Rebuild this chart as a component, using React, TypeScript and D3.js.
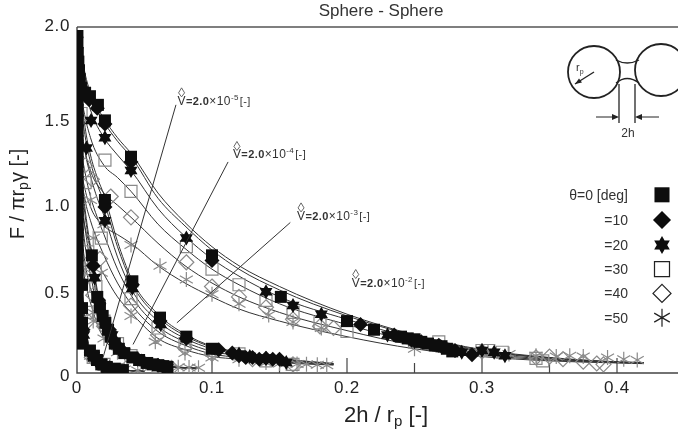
import React from "react";
import * as d3 from "d3";

const FONT = "'Liberation Sans', Arial, sans-serif";
type P = number[];

const xMajorTicks = [0.1, 0.2, 0.3, 0.4];
const xMidTicks = [0.25, 0.35];
const xMinorTicks = [0.15];
const yTickValues = [0, 0.5, 1, 1.5, 2];
const yTickText = ["0", "0.5", "1.0", "1.5", "2.0"];
const yTickCentres = [375, 292, 205, 120, 25];
const xTickValues = [0, 0.1, 0.2, 0.3, 0.4];
const xTickText = ["0", "0.1", "0.2", "0.3", "0.4"];

// ---- curves, one y list per contact angle, theta = 0,10,20,30,40,50
const curveXD = [0.001, 0.003, 0.006, 0.01, 0.02, 0.03, 0.04, 0.06, 0.08, 0.1, 0.12, 0.15, 0.2, 0.25, 0.3, 0.35, 0.4, 0.42];
const curveD = [
  [1.98, 1.86, 1.73, 1.62, 1.47, 1.36, 1.27, 1.04, 0.87, 0.73, 0.62, 0.5, 0.34, 0.22, 0.135, 0.09, 0.065, 0.06],
  [1.96, 1.84, 1.71, 1.6, 1.45, 1.34, 1.25, 1.01, 0.85, 0.71, 0.6, 0.48, 0.33, 0.215, 0.13, 0.088, 0.064, 0.059],
  [1.9, 1.76, 1.63, 1.52, 1.36, 1.26, 1.17, 0.95, 0.79, 0.66, 0.56, 0.44, 0.31, 0.2, 0.125, 0.085, 0.063, 0.058],
  [1.8, 1.62, 1.48, 1.36, 1.2, 1.13, 1.05, 0.86, 0.72, 0.6, 0.51, 0.4, 0.28, 0.18, 0.115, 0.08, 0.062, 0.057],
  [1.65, 1.42, 1.28, 1.17, 1.04, 0.97, 0.9, 0.75, 0.62, 0.52, 0.44, 0.35, 0.245, 0.16, 0.105, 0.075, 0.06, 0.055],
  [1.45, 1.2, 1.06, 0.96, 0.85, 0.8, 0.75, 0.62, 0.52, 0.44, 0.37, 0.3, 0.21, 0.14, 0.095, 0.07, 0.058, 0.054],
];
const curveXC = [0.001, 0.003, 0.006, 0.01, 0.015, 0.02, 0.03, 0.04, 0.06, 0.08, 0.1, 0.12, 0.15, 0.19];
const curveC = [
  [1.9, 1.62, 1.42, 1.26, 1.13, 1.03, 0.76, 0.55, 0.34, 0.225, 0.155, 0.12, 0.085, 0.055],
  [1.85, 1.56, 1.37, 1.22, 1.09, 0.99, 0.73, 0.53, 0.325, 0.215, 0.15, 0.115, 0.082, 0.054],
  [1.75, 1.46, 1.28, 1.14, 1.01, 0.91, 0.67, 0.49, 0.3, 0.2, 0.14, 0.11, 0.078, 0.052],
  [1.6, 1.32, 1.16, 1.02, 0.9, 0.8, 0.6, 0.45, 0.27, 0.18, 0.125, 0.1, 0.072, 0.05],
  [1.4, 1.16, 1.0, 0.88, 0.77, 0.68, 0.52, 0.4, 0.24, 0.16, 0.11, 0.09, 0.066, 0.048],
  [1.2, 0.98, 0.84, 0.73, 0.64, 0.57, 0.44, 0.35, 0.2, 0.135, 0.095, 0.08, 0.06, 0.046],
];
const curveXB = [0.001, 0.003, 0.005, 0.008, 0.011, 0.015, 0.02, 0.028, 0.04, 0.052, 0.067, 0.09];
const curveB = [
  [1.5, 1.22, 1.02, 0.83, 0.68, 0.48, 0.32, 0.19, 0.1, 0.068, 0.042, 0.028],
  [1.45, 1.17, 0.98, 0.8, 0.65, 0.46, 0.31, 0.18, 0.098, 0.066, 0.041, 0.028],
  [1.35, 1.08, 0.9, 0.73, 0.6, 0.42, 0.29, 0.17, 0.095, 0.064, 0.04, 0.027],
  [1.22, 0.96, 0.8, 0.64, 0.53, 0.38, 0.26, 0.16, 0.09, 0.06, 0.038, 0.027],
  [1.05, 0.84, 0.69, 0.55, 0.46, 0.33, 0.23, 0.145, 0.085, 0.057, 0.036, 0.026],
  [0.9, 0.71, 0.58, 0.46, 0.38, 0.28, 0.2, 0.13, 0.08, 0.054, 0.034, 0.026],
];
const curveXA = [0.0005, 0.001, 0.002, 0.003, 0.004, 0.006, 0.01, 0.015, 0.022, 0.034, 0.05];
const curveA = [
  [1.2, 1.0, 0.76, 0.6, 0.47, 0.3, 0.13, 0.075, 0.038, 0.018, 0.01],
  [1.15, 0.96, 0.72, 0.57, 0.45, 0.29, 0.125, 0.073, 0.037, 0.018, 0.01],
  [1.05, 0.88, 0.66, 0.52, 0.42, 0.27, 0.12, 0.07, 0.036, 0.017, 0.01],
  [0.95, 0.78, 0.58, 0.47, 0.38, 0.25, 0.11, 0.065, 0.034, 0.017, 0.01],
  [0.82, 0.66, 0.5, 0.4, 0.33, 0.22, 0.1, 0.06, 0.032, 0.016, 0.01],
  [0.68, 0.55, 0.42, 0.34, 0.28, 0.19, 0.09, 0.055, 0.03, 0.016, 0.01],
];
const curveFamilies: [number[], number[][]][] = [[curveXD, curveD], [curveXC, curveC], [curveXB, curveB], [curveXA, curveA]];

// ---- measured points, one list per contact angle, [x, y, x, y, ...]
const points0 = [
  0.0003, 1.97, 0.0003, 1.91, 0.0006, 1.85, 0.001, 1.8, 0.0015, 1.75, 0.002, 1.7, 0.003, 1.65, 0.004, 1.62, 0.006, 1.62, 0.0096, 1.6, 0.0155, 1.55, 0.0207, 1.46, 0.04, 1.25, 0.1, 0.68, 0.151, 0.44, 0.2, 0.3, 0.22, 0.25, 0.24, 0.21, 0.245, 0.2, 0.25, 0.195, 0.255, 0.18, 0.26, 0.17, 0.265, 0.16, 0.27, 0.155, 0.274, 0.14, 0.278, 0.125,
  0.0005, 1.58, 0.0005, 1.52, 0.0005, 1.46, 0.0005, 1.4, 0.0005, 1.34, 0.0005, 1.28, 0.0005, 1.22, 0.0005, 1.16, 0.0005, 1.1, 0.0005, 1.04, 0.0005, 0.98, 0.0005, 0.92, 0.0005, 0.86, 0.0005, 0.8, 0.0005, 0.74, 0.0005, 0.68, 0.0005, 0.62, 0.0005, 0.56, 0.0005, 0.5, 0.0005, 0.44, 0.0005, 0.38, 0.0005, 0.32, 0.0005, 0.26, 0.0005, 0.2,
  0.0207, 1.0, 0.041, 0.53, 0.0615, 0.32, 0.081, 0.21, 0.1, 0.14, 0.011, 0.68, 0.015, 0.44, 0.017, 0.38, 0.019, 0.33, 0.021, 0.29, 0.023, 0.25, 0.025, 0.21, 0.028, 0.17, 0.031, 0.14, 0.035, 0.115, 0.041, 0.09, 0.046, 0.075, 0.052, 0.058, 0.056, 0.05, 0.06, 0.045, 0.064, 0.04, 0.067, 0.035,
  0.002, 0.51, 0.0037, 0.51, 0.0037, 0.375, 0.0037, 0.29, 0.0037, 0.17, 0.0096, 0.13, 0.0125, 0.1, 0.0148, 0.075, 0.018, 0.05, 0.022, 0.035, 0.028, 0.025, 0.034, 0.017,
];
const points10 = [
  0.009, 1.58, 0.015, 1.53, 0.0207, 1.44, 0.04, 1.22, 0.1, 0.65, 0.21, 0.28, 0.235, 0.22, 0.248, 0.19, 0.255, 0.18, 0.268, 0.16, 0.28, 0.13, 0.2926, 0.105,
  0.0207, 0.96, 0.041, 0.51, 0.0615, 0.3, 0.081, 0.2, 0.105, 0.135, 0.115, 0.115, 0.12, 0.1, 0.125, 0.09, 0.13, 0.09, 0.135, 0.08, 0.14, 0.085, 0.145, 0.08, 0.15, 0.08, 0.012, 0.62, 0.016, 0.42, 0.024, 0.25, 0.032, 0.14, 0.045, 0.08, 0.06, 0.045,
  0.0045, 0.25, 0.011, 0.11, 0.016, 0.065, 0.024, 0.03,
];
const points20 = [
  0.0104, 1.46, 0.0207, 1.36, 0.04, 1.17, 0.081, 0.78, 0.14, 0.47, 0.16, 0.39, 0.181, 0.34, 0.23, 0.22, 0.25, 0.18, 0.27, 0.15, 0.285, 0.12, 0.3, 0.13, 0.309, 0.12, 0.317, 0.1,
  0.007, 1.3, 0.0207, 0.88, 0.041, 0.49, 0.062, 0.28, 0.12, 0.11, 0.128, 0.095, 0.14, 0.085, 0.155, 0.06, 0.013, 0.55, 0.017, 0.38, 0.026, 0.22, 0.035, 0.12, 0.048, 0.07, 0.065, 0.035,
  0.005, 0.22, 0.012, 0.1, 0.018, 0.055, 0.026, 0.025,
];
const points30 = [
  0.0207, 1.23, 0.04, 1.05, 0.081, 0.73, 0.1, 0.6, 0.12, 0.51, 0.14, 0.42, 0.16, 0.35, 0.18, 0.29, 0.2, 0.24, 0.25, 0.18, 0.268, 0.18, 0.3, 0.13, 0.305, 0.13, 0.315, 0.12, 0.34, 0.085, 0.345, 0.07, 0.003, 1.5, 0.006, 1.1,
  0.018, 0.78, 0.04, 0.43, 0.06, 0.26, 0.08, 0.17, 0.1, 0.13, 0.12, 0.11, 0.14, 0.07, 0.16, 0.05, 0.014, 0.5, 0.02, 0.3, 0.03, 0.17, 0.04, 0.1, 0.06, 0.04,
  0.008, 0.7, 0.007, 0.35, 0.012, 0.09, 0.02, 0.05, 0.03, 0.02,
];
const points40 = [
  0.006, 1.2, 0.011, 1.12, 0.025, 1.02, 0.04, 0.9, 0.081, 0.64, 0.1, 0.5, 0.12, 0.44, 0.14, 0.38, 0.16, 0.31, 0.18, 0.27, 0.19, 0.26, 0.3, 0.125, 0.34, 0.09, 0.35, 0.095, 0.36, 0.08, 0.375, 0.065, 0.385, 0.055, 0.39, 0.05,
  0.017, 0.66, 0.04, 0.39, 0.06, 0.22, 0.08, 0.145, 0.1, 0.11, 0.13, 0.08, 0.16, 0.05, 0.012, 0.45, 0.02, 0.27, 0.03, 0.15, 0.05, 0.055, 0.07, 0.03,
  0.009, 0.6, 0.008, 0.3, 0.011, 0.09, 0.019, 0.045,
];
const points50 = [
  0.01, 1.0, 0.02, 0.86, 0.04, 0.74, 0.0615, 0.62, 0.081, 0.54, 0.1, 0.455, 0.12, 0.4, 0.142, 0.335, 0.16, 0.295, 0.181, 0.26, 0.25, 0.14, 0.3, 0.12, 0.32, 0.11, 0.34, 0.1, 0.355, 0.095, 0.365, 0.1, 0.375, 0.095, 0.393, 0.09, 0.405, 0.08, 0.415, 0.075,
  0.012, 0.78, 0.018, 0.58, 0.04, 0.33, 0.058, 0.18, 0.08, 0.115, 0.1, 0.09, 0.12, 0.08, 0.14, 0.06, 0.15, 0.055, 0.155, 0.055, 0.163, 0.052, 0.17, 0.05, 0.178, 0.048, 0.185, 0.045, 0.006, 0.6, 0.012, 0.35, 0.02, 0.2, 0.03, 0.12, 0.06, 0.04, 0.075, 0.033, 0.083, 0.032, 0.09, 0.03,
  0.012, 0.3, 0.01, 0.1, 0.018, 0.06, 0.035, 0.02, 0.045, 0.015,
];
const pointSets = [points0, points10, points20, points30, points40, points50];

// ---- annotations
const legendLabels = ["\u03b8=0 [deg]", "=10", "=20", "=30", "=40", "=50"];
const legendValuesY = [1.03, 0.885, 0.74, 0.6, 0.46, 0.32];
const volumeExponents = ["-5", "-4", "-3", "-2"];
const volumeLabelAt = [[0.0745, 1.55], [0.1155, 1.24], [0.163, 0.885], [0.2035, 0.5]];
const leaderLines = [
  [0.0733, 1.55, 0.0193, 0.09],
  [0.1119, 1.22, 0.0415, 0.165],
  [0.158, 0.87, 0.074, 0.29],
];

const W = 678, H = 438;
const x = d3.scaleLinear().domain([0, 0.4]).range([77, 617]);
const y = d3.scaleLinear().domain([0, 2]).range([373, 27]);
const line = d3.line<P>().x(d => x(d[0])).y(d => y(d[1])).curve(d3.curveMonotoneX);

const polar = (r: number, n: number, off = 0) =>
  d3.range(n).map(i => [r * Math.sin(off + (i * 2 * Math.PI) / n), -r * Math.cos(off + (i * 2 * Math.PI) / n)]);
const poly = (pts: number[][]) => "M" + pts.map(p => p.join(",")).join("L") + "Z";
const shapes: ((k: number) => string)[] = [
  k => poly([[-6 * k, -6 * k], [6 * k, -6 * k], [6 * k, 6 * k], [-6 * k, 6 * k]]),
  k => poly(polar(7.5 * k, 4)),
  k => poly(polar(7.5 * k, 3)) + poly(polar(7.5 * k, 3, Math.PI)),
  k => poly([[-6 * k, -6 * k], [6 * k, -6 * k], [6 * k, 6 * k], [-6 * k, 6 * k]]),
  k => poly(polar(7.5 * k, 4)),
  k => polar(7.5 * k, 6).map(p => `M0,0L${p[0]},${p[1]}`).join(""),
];
const filled = [true, true, true, false, false, false];

function Marker({ t, px, py, k = 1, grey = "#8a8a8a" }: { t: number; px: number; py: number; k?: number; grey?: string }) {
  return (
    <path
      d={shapes[t](k)}
      transform={`translate(${px},${py})`}
      fill={filled[t] ? "#0a0a0a" : "none"}
      stroke={filled[t] ? "none" : grey}
      strokeWidth={1.2}
    />
  );
}

function VolumeLabel({ i }: { i: number }) {
  const [vx, vy] = volumeLabelAt[i];
  const px = x(vx), py = y(vy);
  return (
    <g>
      <path d={`M${px + 4},${py - 17}l3,5l-3,4l-3,-4z`} fill="none" stroke="#555" strokeWidth={0.9} />
      <text x={px} y={py} fontSize={12} letterSpacing={0.4} fill="#333" fontFamily={FONT} stroke="none">
        <tspan>V</tspan>
        <tspan fontWeight={700} fontSize={11}>=2.0</tspan>
        <tspan>{"\u00d7"}10</tspan>
        <tspan dy={-5} fontSize={8}>{volumeExponents[i]}</tspan>
        <tspan dy={5} dx={1} fontSize={11}>[-]</tspan>
      </text>
    </g>
  );
}

export default function App() {
  return (
    <svg width={W} height={H} style={{ position: "fixed", left: 0, top: 0, background: "#fff" }}>
      <defs>
        <clipPath id="plot"><rect x={77} y={30} width={601} height={343} /></clipPath>
        <filter id="soft" x="-5%" y="-5%" width="110%" height="110%"><feGaussianBlur stdDeviation={0.5} /></filter>
      </defs>
      <g filter="url(#soft)">
        <path d={`M${x(0)},${y(2)}H${W}`} stroke="#555" strokeWidth={1.4} fill="none" />
        <path d={`M${x(0)},${y(2)}V${y(0)}H${W}`} stroke="#444" strokeWidth={1.4} fill="none" />
        {xMajorTicks.map(t => <path key={t} d={`M${x(t)},${y(0)}v-15`} stroke="#444" strokeWidth={1.2} />)}
        {xMidTicks.map(t => <path key={t} d={`M${x(t)},${y(0)}v-10`} stroke="#444" strokeWidth={1.2} />)}
        {xMinorTicks.map(t => <path key={t} d={`M${x(t)},${y(0)}v-5`} stroke="#444" strokeWidth={1.2} />)}
        {yTickValues.map((_, i) => (
          <text key={i} x={70} y={yTickCentres[i] + 6} textAnchor="end" fontSize={17} letterSpacing={0.6} fontFamily={FONT} fill="#222">{yTickText[i]}</text>
        ))}
        {xTickValues.map((v, i) => (
          <text key={v} x={x(v)} y={393} textAnchor="middle" fontSize={17} letterSpacing={0.8} fontFamily={FONT} fill="#222">{xTickText[i]}</text>
        ))}
        <text x={381} y={16} textAnchor="middle" fontSize={17} fontFamily={FONT} fill="#333">Sphere - Sphere</text>
        <text x={386} y={422} textAnchor="middle" fontSize={22} fontFamily={FONT} fill="#222">
          2h / r<tspan dy={4} fontSize={15}>p</tspan><tspan dy={-4}> [-]</tspan>
        </text>
        <text transform="translate(24,194) rotate(-90)" textAnchor="middle" fontSize={20} fontFamily={FONT} fill="#222">
          F / {"\u03c0"}r<tspan dy={4} fontSize={14}>p</tspan><tspan dy={-4}>{"\u03b3"} [-]</tspan>
        </text>

        <g clipPath="url(#plot)">
          {curveFamilies.map(([cx, ys], f) =>
            ys.map((cy, t) => (
              <path key={`${f}-${t}`} d={line(cx.map((v, i) => [v, cy[i]])) || ""} fill="none" stroke="#333" strokeWidth={1} />
            ))
          )}
          {[5, 4, 3, 2, 1, 0].map(t => (
            <g key={t}>
              {d3.range(0, pointSets[t].length, 2).map(i => (
                <Marker key={i} t={t} px={x(pointSets[t][i])} py={y(pointSets[t][i + 1])} />
              ))}
            </g>
          ))}
        </g>

        {leaderLines.map((l, i) => (
          <path key={i} d={`M${x(l[0])},${y(l[1])}L${x(l[2])},${y(l[3])}`} stroke="#333" strokeWidth={1} />
        ))}
        {volumeExponents.map((_, i) => <VolumeLabel key={i} i={i} />)}

        {legendLabels.map((s, i) => {
          const ly = y(legendValuesY[i]);
          return (
            <g key={s}>
              <text x={628} y={ly + 5} textAnchor="end" fontSize={14} fontFamily={FONT} fill="#333">{s}</text>
              <Marker t={i} px={662} py={ly} k={i === 0 || i === 3 ? 1.25 : 1.2} grey="#222" />
            </g>
          );
        })}

        <g fill="none" stroke="#222">
          <circle cx={594} cy={72} r={26} strokeWidth={1.8} />
          <circle cx={661} cy={70} r={26} strokeWidth={1.8} />
          <path d="M616,60Q627,66 639,60" strokeWidth={1.3} />
          <path d="M616,83Q627,74 639,83" strokeWidth={1.3} />
          <path d="M619,84V123M635,84V123" strokeWidth={1.3} />
          <path d="M596,117H617M637,117H659" strokeWidth={1} />
          <path d="M594,72L575,84" strokeWidth={1.3} />
        </g>
        <path d="M619,117l-7,-3v6zM635,117l7,-3v6zM575,84l7,-1.5l-3,-4z" fill="#222" />
        <text x={628} y={137} textAnchor="middle" fontSize={12} fontFamily={FONT} fill="#333">2h</text>
        <text x={576} y={71} fontSize={11} fontFamily={FONT} fill="#333">r<tspan dy={3} fontSize={7}>p</tspan></text>
      </g>
    </svg>
  );
}
